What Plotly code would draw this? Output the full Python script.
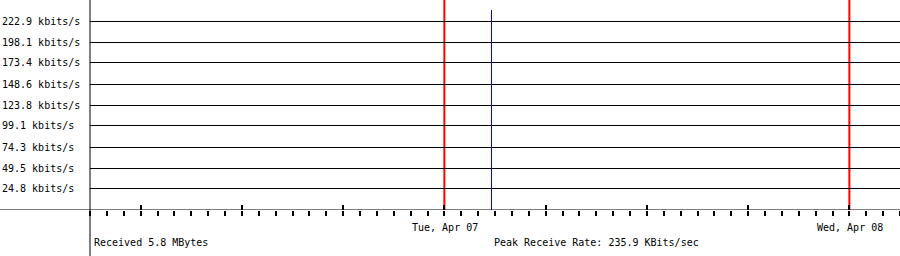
import plotly.graph_objects as go

# ---- data ----
y_tick_values = [24.8, 49.5, 74.3, 99.1, 123.8, 148.6, 173.4, 198.1, 222.9]
y_tick_labels = ["24.8 kbits/s", "49.5 kbits/s", "74.3 kbits/s", "99.1 kbits/s",
                 "123.8 kbits/s", "148.6 kbits/s", "173.4 kbits/s", "198.1 kbits/s",
                 "222.9 kbits/s"]
y_max = 247.67

x_range = ["2020-04-06 03:00", "2020-04-08 03:00"]
day_starts = ["2020-04-07 00:00", "2020-04-08 00:00"]
day_labels = ["Tue, Apr 07", "Wed, Apr 08"]

sample_times = ["2020-04-07 02:47:36"]
sample_rates = [235.9]

received_text = "Received 5.8 MBytes"
peak_text = "Peak Receive Rate: 235.9 KBits/sec"

FONT = "DejaVu Sans Mono"
W, H = 900, 256
ML, MB = 90, 46
PW, PH = W - ML, H - MB

# spike trace built from samples
xs, ys = [], []
for t, v in zip(sample_times, sample_rates):
    xs += [t, t, None]
    ys += [0, v, None]

fig = go.Figure()
fig.add_trace(go.Scatter(x=xs, y=ys, mode="lines",
                         line=dict(color="#0000ff", width=1),
                         hoverinfo="skip", showlegend=False))

shapes = []
# red day boundary lines
for d in day_starts:
    shapes.append(dict(type="line", xref="x", yref="paper", x0=d, x1=d, y0=0, y1=1,
                       line=dict(color="#ff0000", width=2), layer="between"))
# baseline extended to left edge
shapes.append(dict(type="line", xref="paper", yref="y", x0=-ML / PW, x1=1, y0=0, y1=0,
                   line=dict(color="black", width=1), layer="above"))
# left vertical axis extended to bottom
shapes.append(dict(type="line", xref="paper", yref="paper", x0=0, x1=0, y0=-MB / PH, y1=1,
                   line=dict(color="black", width=1), layer="above"))

annotations = []
for v, lab in zip(y_tick_values, y_tick_labels):
    annotations.append(dict(xref="paper", yref="y", x=-ML / PW, y=v, text=lab,
                            xanchor="left", yanchor="middle", showarrow=False,
                            xshift=0, font=dict(family=FONT, size=10, color="black")))
for d, lab in zip(day_starts, day_labels):
    annotations.append(dict(xref="x", yref="paper", x=d, y=-(228 - PH) / PH, text=lab,
                            xanchor="center", yanchor="middle", showarrow=False,
                            xshift=1, font=dict(family=FONT, size=10, color="black")))
annotations.append(dict(xref="paper", yref="paper", x=(92 - ML) / PW, y=-(243 - PH) / PH,
                        text=received_text, xanchor="left", yanchor="middle", showarrow=False,
                        font=dict(family=FONT, size=10, color="black")))
annotations.append(dict(xref="paper", yref="paper", x=(492 - ML) / PW, y=-(243 - PH) / PH,
                        text=peak_text, xanchor="left", yanchor="middle", showarrow=False,
                        font=dict(family=FONT, size=10, color="black")))

fig.update_layout(
    width=W, height=H,
    margin=dict(l=ML, r=0, t=0, b=MB, pad=0),
    paper_bgcolor="white", plot_bgcolor="white",
    showlegend=False,
    shapes=shapes, annotations=annotations,
    xaxis=dict(type="date", range=x_range, showgrid=False, zeroline=False,
               showline=False, showticklabels=False,
               tickmode="linear", tick0="2020-04-06 00:00", dtick=6 * 3600000,
               ticks="outside", ticklen=5, tickwidth=2, tickcolor="black",
               minor=dict(tickmode="linear", tick0="2020-04-06 00:00", dtick=3600000,
                          ticks="outside", ticklen=5, tickwidth=2, tickcolor="black",
                          showgrid=False)),
    xaxis2=dict(type="date", range=x_range, overlaying="x", anchor="y", side="bottom",
                showgrid=False, zeroline=False, showline=False, showticklabels=False,
                tickmode="linear", tick0="2020-04-06 00:00", dtick=6 * 3600000,
                ticks="inside", ticklen=5, tickwidth=2, tickcolor="black"),
    yaxis=dict(range=[0, y_max], tickmode="array", tickvals=y_tick_values,
               showticklabels=False, ticks="", showgrid=True, gridcolor="black",
               gridwidth=1, zeroline=False, showline=False, fixedrange=True),
)
# invisible trace on xaxis2 so it renders
fig.add_trace(go.Scatter(x=[x_range[0]], y=[0], xaxis="x2", mode="markers",
                         marker=dict(opacity=0), hoverinfo="skip", showlegend=False))

fig.write_html("out.html")
